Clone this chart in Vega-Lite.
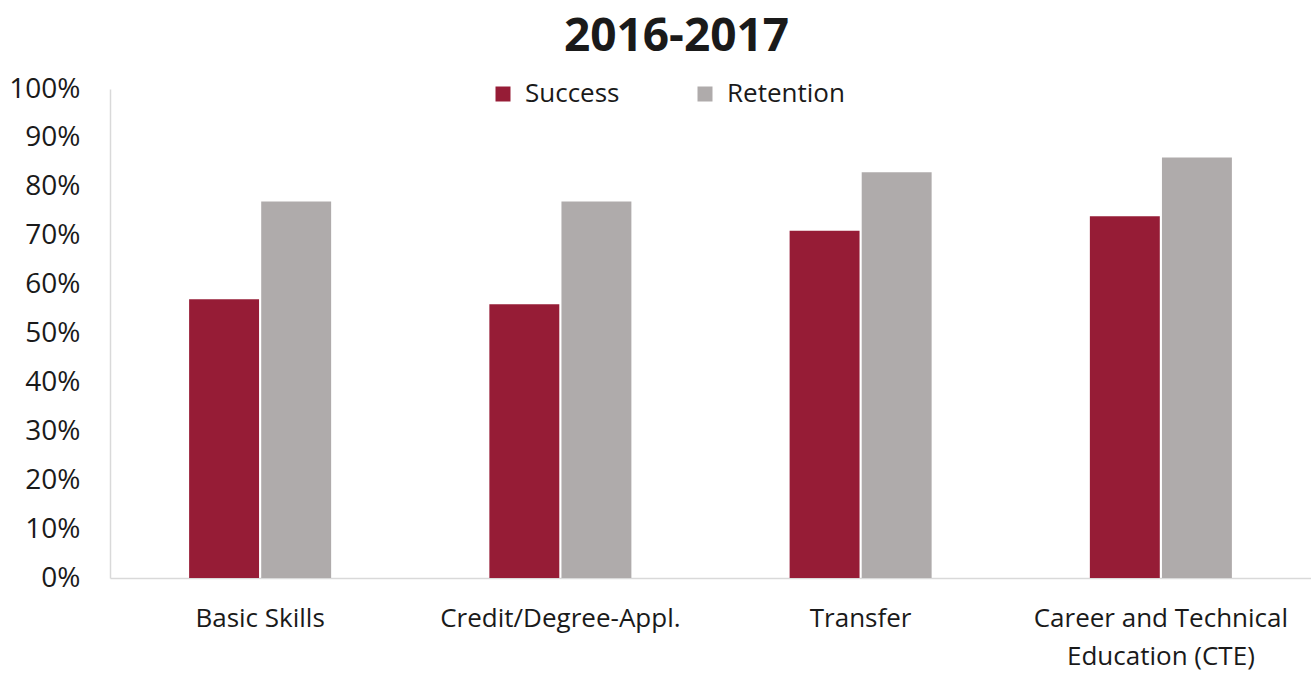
{
  "$schema": "https://vega.github.io/schema/vega-lite/v6.json",
  "width": 1311,
  "height": 675,
  "autosize": {"type": "fit", "contains": "padding"},
  "padding": {"left": 8, "right": 0, "top": 14, "bottom": 6},
  "background": "white",
  "title": {
    "text": "2016-2017",
    "font": "Open Sans",
    "fontSize": 46,
    "fontWeight": "bold",
    "color": "#1a1a1a",
    "anchor": "middle",
    "dx": -34,
    "offset": 14
  },
  "data": {
    "values": [
      {"category": "Basic Skills", "measure": "Success", "value": 0.57},
      {"category": "Basic Skills", "measure": "Retention", "value": 0.77},
      {"category": "Credit/Degree-Appl.", "measure": "Success", "value": 0.56},
      {"category": "Credit/Degree-Appl.", "measure": "Retention", "value": 0.77},
      {"category": "Transfer", "measure": "Success", "value": 0.71},
      {"category": "Transfer", "measure": "Retention", "value": 0.83},
      {"category": "Career and Technical Education (CTE)", "measure": "Success", "value": 0.74},
      {"category": "Career and Technical Education (CTE)", "measure": "Retention", "value": 0.86}
    ]
  },
  "mark": {"type": "bar"},
  "encoding": {
    "x": {
      "field": "category",
      "type": "nominal",
      "sort": null,
      "scale": {"paddingInner": 0.527, "paddingOuter": 0.2635},
      "axis": {
        "title": null,
        "labelAngle": 0,
        "labelFont": "Open Sans",
        "labelFontSize": 26,
        "labelColor": "#1a1a1a",
        "labelPadding": 27,
        "labelLineHeight": 38,
        "labelBaseline": "top",
        "labelLimit": 0,
        "labelOverlap": false,
        "ticks": false,
        "domainColor": "#d9d9d9",
        "domainWidth": 1.5,
        "labelExpr": "datum.value == 'Career and Technical Education (CTE)' ? ['Career and Technical', 'Education (CTE)'] : datum.value"
      }
    },
    "xOffset": {
      "field": "measure",
      "type": "nominal",
      "sort": ["Success", "Retention"],
      "scale": {"paddingInner": 0.03, "paddingOuter": 0}
    },
    "y": {
      "field": "value",
      "type": "quantitative",
      "scale": {"domain": [0, 1]},
      "axis": {
        "title": null,
        "format": ".0%",
        "values": [0, 0.1, 0.2, 0.3, 0.4, 0.5, 0.6, 0.7, 0.8, 0.9, 1],
        "labelOverlap": false,
        "grid": false,
        "ticks": false,
        "labelFont": "Open Sans",
        "labelFontSize": 28,
        "labelColor": "#1a1a1a",
        "labelPadding": 30,
        "domainColor": "#d9d9d9",
        "domainWidth": 1.5
      }
    },
    "color": {
      "field": "measure",
      "type": "nominal",
      "sort": ["Success", "Retention"],
      "scale": {"domain": ["Success", "Retention"], "range": ["#961c36", "#afabab"]},
      "legend": {
        "title": null,
        "orient": "none",
        "direction": "horizontal",
        "legendX": 380,
        "legendY": -8,
        "symbolType": "square",
        "symbolSize": 225,
        "symbolStrokeWidth": 0,
        "labelFont": "Open Sans",
        "labelFontSize": 26,
        "labelColor": "#1a1a1a",
        "labelOffset": 9,
        "columnPadding": 72
      }
    }
  },
  "config": {"view": {"stroke": null}}
}
